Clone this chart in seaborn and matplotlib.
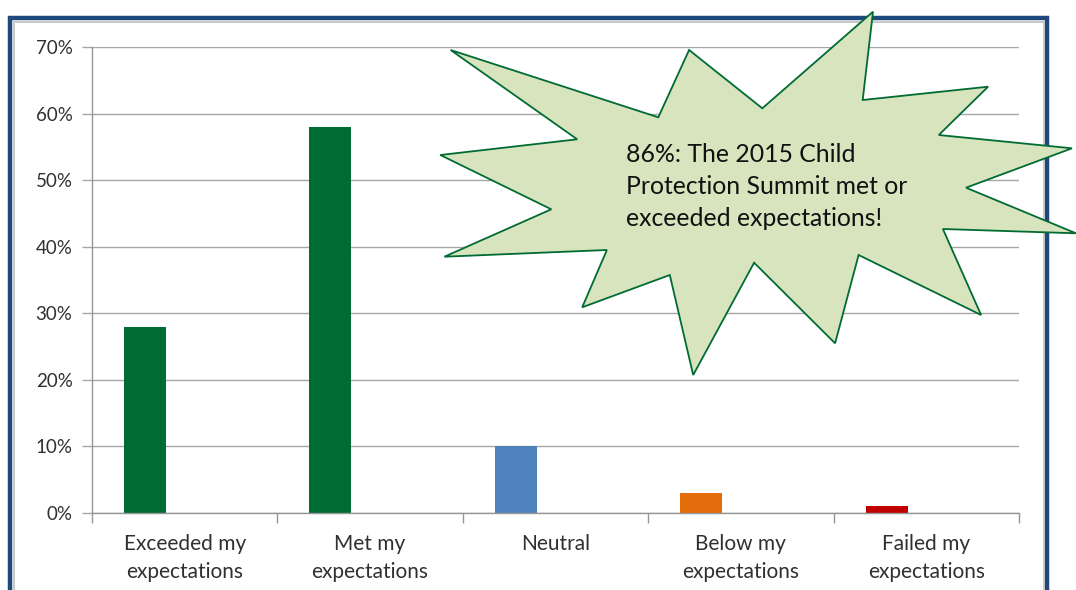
import matplotlib
matplotlib.use("Agg")
import matplotlib.pyplot as plt
from matplotlib.patches import Polygon, Rectangle
from matplotlib.ticker import PercentFormatter
import seaborn as sns

# survey answers (percent of respondents)
categories = ["Exceeded my\nexpectations", "Met my\nexpectations", "Neutral",
              "Below my\nexpectations", "Failed my\nexpectations"]
share = [28, 58, 10, 3, 1]
bar_colors = ["#006b33", "#006b33", "#4f81bd", "#e46c0a", "#c00000"]
yticks = [0, 10, 20, 30, 40, 50, 60, 70]
callout = "86%: The 2015 Child\nProtection Summit met or\nexceeded expectations!"

sns.set_theme(style="white")
plt.rcParams["font.family"] = ["Lato", "DejaVu Sans"]

W, H = 1076, 590
fig = plt.figure(figsize=(W / 100, H / 100), dpi=100)
ax = fig.add_axes([92 / W, 1 - 513 / H, (1019 - 92) / W, (513 - 47) / H])

sns.barplot(x=categories, y=share, hue=categories, palette=bar_colors,
            width=0.227, saturation=1, legend=False, ax=ax)
# excel-style clustered layout: bar sits left of the category centre
for p in ax.patches:
    p.set_x(p.get_x() - 0.214)
    p.set_linewidth(0)

ax.set_xlim(-0.5, len(categories) - 0.5)
ax.set_ylim(0, 70)
ax.set_yticks(yticks)
ax.yaxis.set_major_formatter(PercentFormatter(100, decimals=0))
ax.set_xticks([i - 0.5 for i in range(len(categories) + 1)], minor=True)
ax.yaxis.grid(True, color="#a6a6a6", lw=1)
ax.set_axisbelow(True)
for s in ["top", "right"]:
    ax.spines[s].set_visible(False)
for s in ["left", "bottom"]:
    ax.spines[s].set_color("#969696")
    ax.spines[s].set_linewidth(1)
ax.tick_params(axis="x", which="major", length=0, pad=15, labelsize=15,
               labelcolor="#303030")
ax.tick_params(axis="x", which="minor", length=7, color="#969696", width=1,
               direction="out", bottom=True)
ax.tick_params(axis="y", length=7, color="#a6a6a6", width=1, direction="out",
               left=True, pad=7, labelsize=13.5, labelcolor="#303030")
for t in ax.get_xticklabels():
    t.set_linespacing(1.5)
ax.set_xlabel("")
ax.set_ylabel("")

# outer frame of the slide graphic
def px(x, y):
    return (x / W, 1 - y / H)

fig.add_artist(Rectangle(px(10, 610), 1037 / W, 592 / H, transform=fig.transFigure,
                         fill=False, edgecolor="#1f497d", lw=3.2, clip_on=False))
fig.add_artist(Rectangle(px(13.5, 610), 1030.5 / W, 588.5 / H, transform=fig.transFigure,
                         fill=False, edgecolor="#bfbfbf", lw=1.2, clip_on=False))

# starburst callout
star = [(450.6, 50), (658.3, 117.3), (689.1, 50), (762.3, 108.3), (873, 11.7),
        (862.7, 100), (988.1, 86.7), (938.8, 135), (1072, 148.3), (966, 187.7),
        (1076, 233.3), (942.9, 229), (981.1, 315), (858.6, 255), (835.1, 343.3),
        (754.1, 262.7), (693.2, 375), (669.8, 275), (582.2, 307.3), (606.9, 250),
        (444.4, 256.7), (551.3, 209.3), (440.3, 155), (577.2, 139.3)]
fig.add_artist(Polygon([px(x, y) for x, y in star], closed=True, transform=fig.transFigure,
                       facecolor="#d7e4bd", edgecolor="#006b33", lw=1.3, zorder=5))
fig.text(626 / W, 1 - 143 / H, callout, ha="left", va="top", fontsize=17.8,
         color="#111111", linespacing=1.48, zorder=6)

fig.savefig("out.png", dpi=100)
